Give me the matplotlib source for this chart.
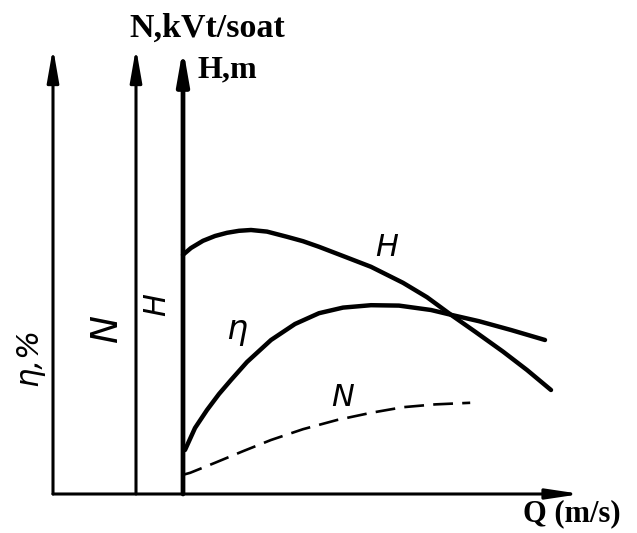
import numpy as np
import matplotlib.pyplot as plt

# --- Data (arbitrary chart units) ---
# Q runs along the horizontal axis, the three curves share the same plot area
q_H = [0, 2, 5, 8, 11, 14, 17, 21, 26, 30, 34, 40, 47, 55, 61, 67, 73, 80, 86, 92]
H = [59.8, 61.5, 63.3, 64.5, 65.3, 65.8, 66.0, 65.6, 64.3, 63.2, 61.8, 59.5, 56.8, 52.8, 49.2, 44.8, 40.6, 35.6, 31.0, 26.0]

q_eta = [0.5, 3, 6, 9, 12, 16, 22, 28, 34, 40, 47, 54, 62, 67, 74, 82, 90.5]
eta = [11.0, 16.5, 21.0, 25.0, 28.5, 33.0, 38.5, 42.5, 45.2, 46.6, 47.2, 47.1, 46.0, 44.8, 43.2, 41.0, 38.5]

q_N = [0, 1.8, 8, 15, 22, 30, 38.5, 47, 55, 63, 71.8]
N = [4.8, 5.3, 7.8, 10.7, 13.5, 16.2, 18.5, 20.3, 21.7, 22.4, 22.8]

# where the three vertical axes stand (in Q units) and their tops
axis_x = [-32.5, -11.75, 0]
axis_top = 111.5
q_end = 99.5

# --- Figure ---
fig = plt.figure(figsize=(6.37, 5.33), dpi=100)
ax = fig.add_axes([0, 0, 1, 1])
ax.set_xlim(-45.75, 113.5)
ax.set_ylim(-9.75, 123.5)
ax.axis('off')

# vertical axes with arrow heads
for xa, lw in zip(axis_x, [2.2, 2.2, 3.4]):
    ax.annotate('', xy=(xa, axis_top), xytext=(xa, 0),
                arrowprops=dict(arrowstyle='-|>,head_length=2.0,head_width=0.35',
                                lw=lw, color='black', shrinkA=0, shrinkB=0))

# horizontal Q axis
ax.annotate('', xy=(q_end, 0), xytext=(axis_x[0], 0),
            arrowprops=dict(arrowstyle='-|>,head_length=2.0,head_width=0.3',
                            lw=2.2, color='black', shrinkA=0, shrinkB=0))

# --- Curves ---
ax.plot(q_H, H, color='black', lw=3.2, solid_capstyle='round')
ax.plot(q_eta, eta, color='black', lw=3.2, solid_capstyle='round')
n_line, = ax.plot(q_N, N, color='black', lw=1.9)
n_line.set_dashes((7.5, 3.5))

# --- Texts ---
serif = dict(family='Liberation Serif', weight='bold')
ax.text(-13.5, 114.25, 'N,kVt/soat', ha='left', va='baseline', fontsize=24.5, **serif)
ax.text(3.75, 104.25, 'H,m', ha='left', va='baseline', fontsize=23, **serif)
ax.text(85.0, -6.8, 'Q (m/s)', ha='left', va='baseline', fontsize=22, **serif)

hand = dict(family='DejaVu Sans', style='italic', ha='center', va='center')
ax.text(-38.25, 34.25, 'η,%', rotation=90, fontsize=22, **hand)
ax.text(-19, 41.5, 'N', rotation=90, fontsize=27, **hand)
ax.text(-6.5, 47.25, 'H', rotation=90, fontsize=22, **hand)

ax.text(51, 61.75, 'H', fontsize=22, **hand)
ax.text(13.5, 41, 'η', fontsize=24, **hand)
ax.text(40, 24, 'N', fontsize=22, **hand)

plt.savefig('out.png', dpi=100)
